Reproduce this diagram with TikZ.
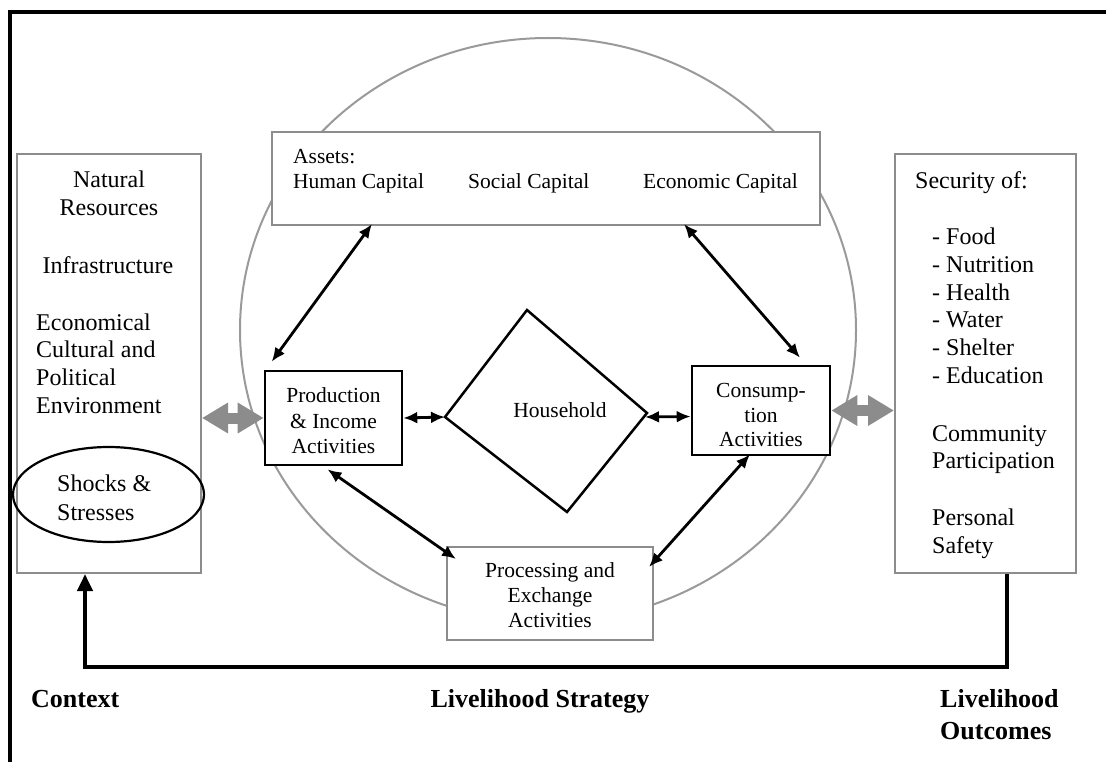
\documentclass[tikz,border=0pt]{standalone}
\usepackage{fontspec}
\setmainfont{Liberation Serif}
\usetikzlibrary{arrows.meta,shapes.geometric,calc}
\definecolor{fgray}{HTML}{8C8C8C}
\definecolor{cgray}{HTML}{9A9A9A}
\begin{document}
\begin{tikzpicture}[x=1pt,y=-1pt,
  graybox/.style={draw=fgray,line width=2pt,fill=white,inner sep=0pt},
  blackbox/.style={draw=black,line width=2.6pt,fill=white,inner sep=0pt},
  side/.style={font=\fontsize{24pt}{28pt}\selectfont,inner sep=0pt},
  mid/.style={font=\fontsize{21.5pt}{25pt}\selectfont,inner sep=0pt},
  bottomlbl/.style={font=\fontsize{26pt}{32pt}\selectfont\bfseries,inner sep=0pt},
  dbl/.style={line width=2.8pt,{Latex[length=14pt,width=12pt]}-{Latex[length=14pt,width=12pt]}},
  fat/.style={draw=fgray,line width=11pt,{Triangle[length=26pt,width=29pt]}-{Triangle[length=26pt,width=29pt]}},
]
\useasboundingbox (0,0) rectangle (1106,762);
\fill[white] (0,0) rectangle (1106,762);

% outer frame (top and left)
\draw[line width=4pt] (8,12) -- (1106,12);
\draw[line width=4pt] (10,10) -- (10,762);

% big circle
\draw[cgray,line width=2pt] (548,330) ellipse [x radius=308pt, y radius=292pt];

% side boxes
\node[graybox,minimum width=184pt,minimum height=419pt] (ctx) at (109,363.5) {};
\node[graybox,minimum width=181pt,minimum height=419pt] (outc) at (985.5,363.5) {};

% central boxes
\node[graybox,minimum width=548pt,minimum height=93pt] (assets) at (546,178.5) {};
\node[graybox,minimum width=206pt,minimum height=93pt] (proc) at (550,593.5) {};
\node[blackbox,minimum width=137pt,minimum height=94pt] (prod) at (333.5,418) {};
\node[blackbox,minimum width=138pt,minimum height=89pt] (cons) at (761,410.5) {};

% household diamond
\coordinate (hT) at (527,310);
\coordinate (hL) at (445,417);
\coordinate (hB) at (567,512);
\coordinate (hR) at (647,413);
\draw[line width=2.5pt,line join=miter] (hT) -- (hR) -- (hB) -- (hL) -- cycle;
\node[mid,anchor=base] (hh) at (560,417) {Household};

% shocks ellipse
\node[draw=black,line width=2.2pt,ellipse,minimum width=191pt,minimum height=95pt,inner sep=0pt] (shocks) at (108.5,494.5) {};

% context texts
\node[side,anchor=base] (c1) at (109,188) {Natural};
\node[side,anchor=base] (c2) at (109,216) {Resources};
\node[side,anchor=base] (c3) at (108,273) {Infrastructure};
\node[side,anchor=base west] (c4) at (36,330) {Economical};
\node[side,anchor=base west] (c5) at (36,357) {Cultural and};
\node[side,anchor=base west] (c6) at (36,385) {Political};
\node[side,anchor=base west] (c7) at (36,413) {Environment};
\node[side,anchor=base west] (c8) at (57,491) {Shocks \&};
\node[side,anchor=base west] (c9) at (57,520) {Stresses};

% outcome texts
\node[side,anchor=base west] (o1) at (915,189) {Security of:};
\node[side,anchor=base west] (o2) at (932,245) {- Food};
\node[side,anchor=base west] (o3) at (932,272.6) {- Nutrition};
\node[side,anchor=base west] (o4) at (932,300.2) {- Health};
\node[side,anchor=base west] (o5) at (932,327.8) {- Water};
\node[side,anchor=base west] (o6) at (932,355.4) {- Shelter};
\node[side,anchor=base west] (o7) at (932,383) {- Education};
\node[side,anchor=base west] (o8) at (932,441) {Community};
\node[side,anchor=base west] (o9) at (932,468) {Participation};
\node[side,anchor=base west] (o10) at (932,525) {Personal};
\node[side,anchor=base west] (o11) at (932,553) {Safety};

% assets texts
\node[mid,anchor=base west] (a1) at (293,164) {Assets:};
\node[mid,anchor=base west] (a2) at (293,189) {Human Capital};
\node[mid,anchor=base west] (a3) at (468,189) {Social Capital};
\node[mid,anchor=base west] (a4) at (643,189) {Economic Capital};

% production / consumption / processing texts
\node[mid,anchor=base] (p1) at (333.5,402) {Production};
\node[mid,anchor=base] (p2) at (333.5,428) {\& Income};
\node[mid,anchor=base] (p3) at (333.5,453) {Activities};
\node[mid,anchor=base] (k1) at (761,397) {Consump-};
\node[mid,anchor=base] (k2) at (761,422) {tion};
\node[mid,anchor=base] (k3) at (761,446) {Activities};
\node[mid,anchor=base] (e1) at (550,577) {Processing and};
\node[mid,anchor=base] (e2) at (550,602) {Exchange};
\node[mid,anchor=base] (e3) at (550,627) {Activities};

% black double arrows
\draw[dbl] ($(prod.north west)+(8,-8)$) -- ($(assets.south west)+(101,-2)$);
\draw[dbl] ($(cons.north)+(39,-7)$) -- ($(assets.south east)+(-137,-2)$);
\draw[dbl] ($(prod.south)+(-6,3)$) -- ($(proc.north west)+(10,13)$);
\draw[dbl] ($(cons.south)+(-11,-2)$) -- ($(proc.north east)+(-5,21)$);
\draw[dbl] (prod.east) -- (hL);
\draw[dbl] ($(hR)+(-2,4)$) -- ($(cons.west)+(0,6)$);

% gray fat arrows
\draw[fat] (ctx.east |- prod.west) -- (prod.west);
\draw[fat] (cons.east) -- (outc.west |- cons.east);

% feedback loop
\coordinate (fbR) at (1007,667);
\coordinate (fbL) at (85,667);
\draw[line width=4pt,-{Triangle[length=17pt,width=15pt]}] (outc.south -| fbR) -- (fbR) -- (fbL) -- (ctx.south -| fbL);

% bottom labels
\node[bottomlbl,anchor=base west] (l1) at (31,707) {Context};
\node[bottomlbl,anchor=base] (l2) at (540,707) {Livelihood Strategy};
\node[bottomlbl,anchor=base west] (l3) at (940,707) {Livelihood};
\node[bottomlbl,anchor=base west] (l4) at (940,739) {Outcomes};
\end{tikzpicture}
\end{document}
